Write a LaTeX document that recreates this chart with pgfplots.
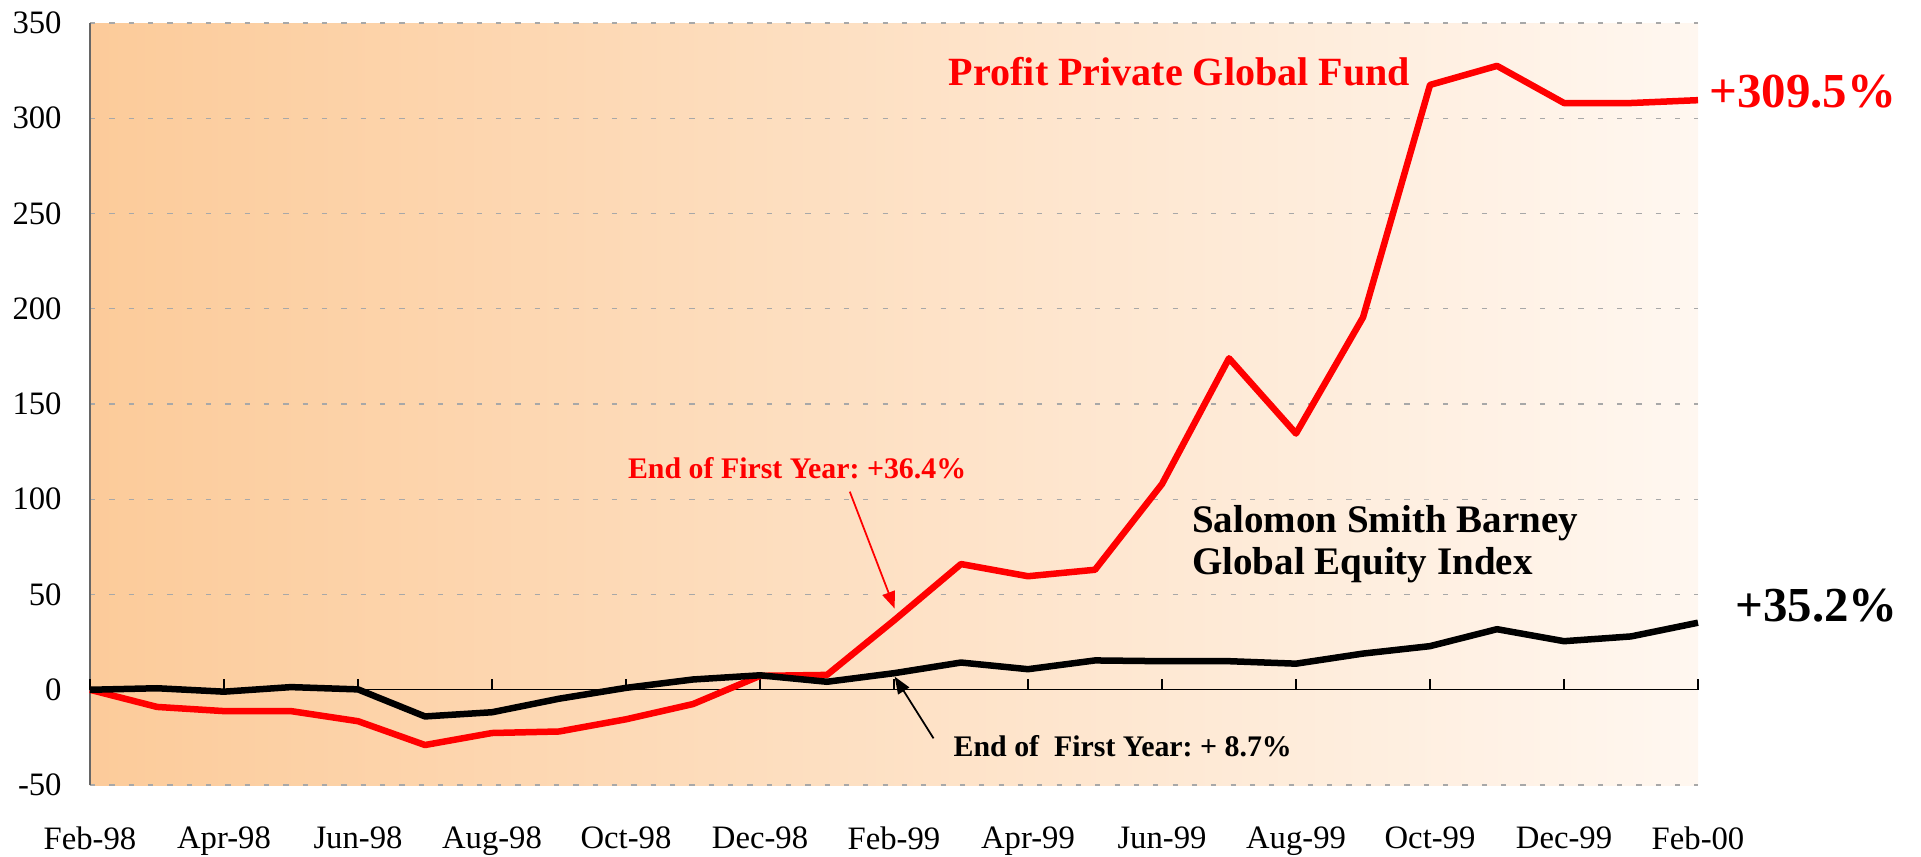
\documentclass[border=0pt]{standalone}
\usepackage{pgfplots}
\pgfplotsset{compat=1.18}
\usepackage{fontspec}
\setmainfont{Liberation Serif}
\usetikzlibrary{arrows.meta}
\frenchspacing

\definecolor{bgL}{RGB}{252,203,154}
\definecolor{bgR}{RGB}{255,247,240}
\definecolor{gridc}{RGB}{168,168,168}

\begin{document}
\begin{tikzpicture}
\begin{axis}[
  scale only axis, width=16.08cm, height=7.62cm,
  anchor=south west, at={(0,0)},
  xmin=0, xmax=24, ymin=-50, ymax=350,
  axis y line*=left, axis x line*=bottom,
  x axis line style={draw=none},
  y axis line style={draw=black!60, line width=0.45pt},
  xtick={0,2,...,24},
  xticklabels={Feb-98,Apr-98,Jun-98,Aug-98,Oct-98,Dec-98,Feb-99,Apr-99,Jun-99,Aug-99,Oct-99,Dec-99,Feb-00},
  ytick={-50,0,...,350},
  major tick length=0pt,
  ymajorgrids,
  grid style={gridc, dash pattern=on 1.5pt off 4pt, line width=0.35pt},
  axis background/.style={left color=bgL, right color=bgR},
  tick label style={font=\fontsize{9.3}{11}\selectfont},
  /pgf/number format/assume math mode=true,
  yticklabel style={xshift=-0.16cm},
  xticklabel style={yshift=-0.29cm},
  clip=false,
]
\draw[black, line width=0.4pt] (axis cs:0,0) -- (axis cs:24,0);
\pgfplotsinvokeforeach{0,2,...,24}{
  \draw[black, line width=0.4pt] (axis cs:#1,0) -- ++(0pt,3.05pt);
}
\addplot[red, line width=1.85pt, line join=round, mark=none] coordinates {
(0,0) (1,-9) (2,-11.2) (3,-11.2) (4,-16.5) (5,-29) (6,-22.7) (7,-21.9) (8,-15.5)
(9,-7.5) (10,7.3) (11,7.8) (12,36.4) (13,66) (14,59.6) (15,63) (16,108)
(17,174) (18,134.5) (19,195.5) (20,317.5) (21,327.5) (22,308) (23,308) (24,309.5)
};
\addplot[black, line width=1.85pt, line join=round, mark=none] coordinates {
(0,0) (1,0.8) (2,-1) (3,1.4) (4,0.2) (5,-14) (6,-11.8) (7,-4.7) (8,1)
(9,5.4) (10,7.6) (11,4.2) (12,8.7) (13,14.3) (14,10.8) (15,15.4) (16,15)
(17,15) (18,13.7) (19,19) (20,22.9) (21,31.8) (22,25.5) (23,28) (24,35.2)
};

\node[anchor=base west, inner sep=0pt, text=red, font=\fontsize{11.4}{12}\selectfont\bfseries] at (axis cs:12.81,317.1) {Profit Private Global Fund};
\node[anchor=base west, inner sep=0pt, text=red, font=\fontsize{13.9}{15}\selectfont\bfseries] at (axis cs:24.16,305.8) {+309.5\%};
\node[anchor=base west, inner sep=0pt, text=black, font=\fontsize{13.9}{15}\selectfont\bfseries] at (axis cs:24.55,35.7) {+35.2\%};
\node[anchor=base west, inner sep=0pt, text=black, font=\fontsize{11.1}{12}\selectfont\bfseries] at (axis cs:16.44,82.3) {Salomon Smith Barney};
\node[anchor=base west, inner sep=0pt, text=black, font=\fontsize{11.1}{12}\selectfont\bfseries] at (axis cs:16.44,60.3) {Global Equity Index};
\node[anchor=base west, inner sep=0pt, text=red, font=\fontsize{8.5}{10}\selectfont\bfseries] at (axis cs:8.02,111.0) {End of First Year: +36.4\%};
\node[anchor=base west, inner sep=0pt, text=black, font=\fontsize{8.5}{10}\selectfont\bfseries] at (axis cs:12.88,-35.1) {End of\ \ First Year: + 8.7\%};

\draw[red, line width=0.5pt, -{Triangle[length=0.17cm,width=0.13cm]}] (axis cs:11.34,104.0) -- (axis cs:12.01,42.6);
\draw[black, line width=0.5pt, -{Triangle[length=0.17cm,width=0.13cm]}] (axis cs:12.59,-25.5) -- (axis cs:12.01,6.9);
\end{axis}
\pgfresetboundingbox
\path (-0.90,-0.71) rectangle (18.31,7.85);
\end{tikzpicture}
\end{document}
